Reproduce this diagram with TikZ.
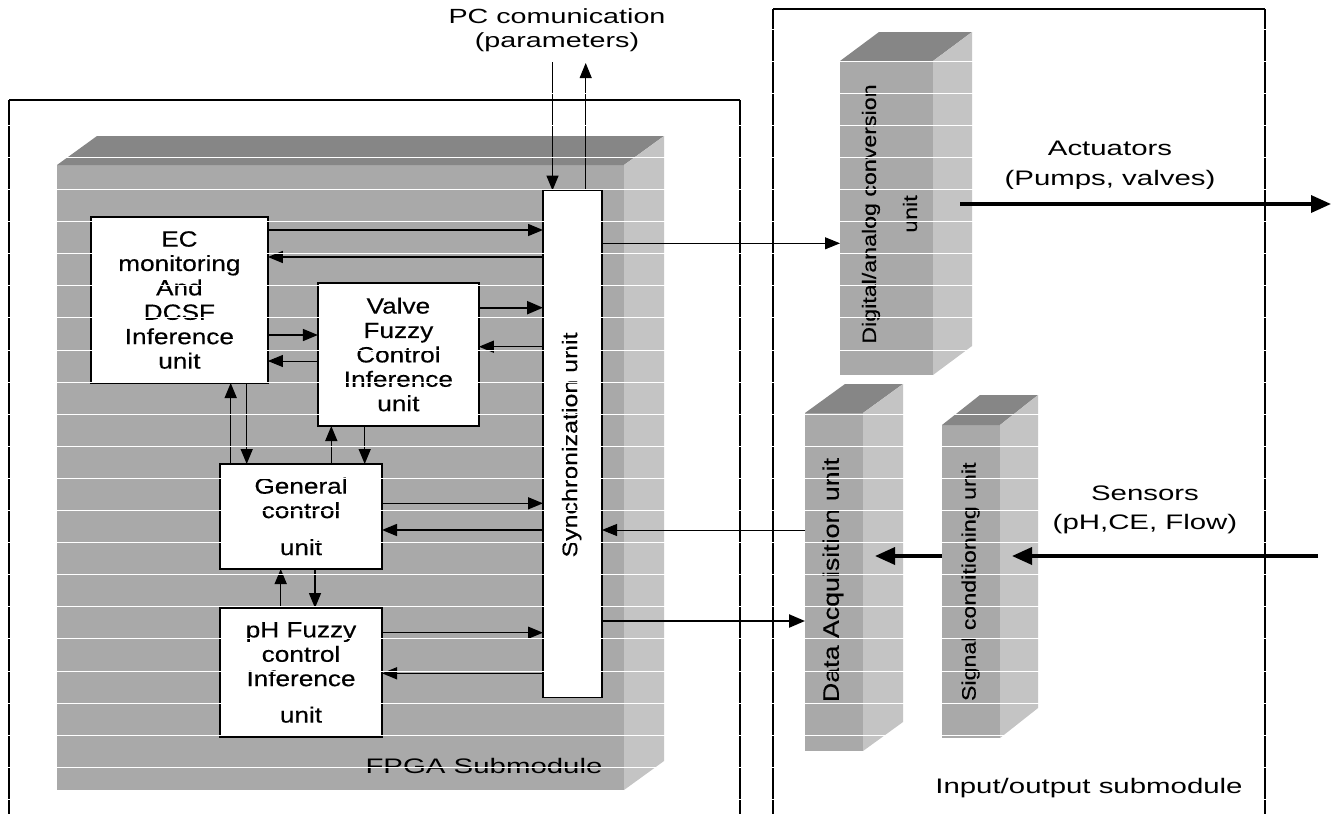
\documentclass[tikz,border=0pt]{standalone}
\usepackage{fontspec}
\setmainfont{Liberation Sans}
\newfontfamily\bxf[FakeStretch=1.19,FakeBold=0.35]{Liberation Sans}
\newfontfamily\lbf[FakeStretch=1.4]{Liberation Sans}
\usetikzlibrary{arrows.meta,calc}
\definecolor{frontg}{RGB}{169,169,169}
\definecolor{topg}{RGB}{134,134,134}
\definecolor{sideg}{RGB}{196,196,196}
\begin{document}
\begin{tikzpicture}[x=1pt,y=-1pt,
  ubox/.style={draw=black, line width=1.6pt, fill=white, inner sep=0pt, outer sep=0pt, align=center, font=\bxf\fontsize{22}{24.4}\selectfont},
  face/.style={fill=frontg, draw=none, inner sep=0pt, outer sep=0pt},
  arr/.style={-{Triangle[length=15pt,width=12pt]}, line width=1.5pt},
  thinarr/.style={-{Triangle[length=15pt,width=12pt]}, line width=0.9pt},
  thkarr/.style={-{Triangle[length=16pt,width=13pt]}, line width=2.3pt},
  bigarr/.style={-{Triangle[length=20pt,width=17pt]}, line width=3.4pt},
  lbl/.style={font=\lbf\fontsize{21}{30}\selectfont, align=center, inner sep=0pt},
  rlbl/.style={rotate=90, align=center, inner sep=0pt},
  thinborder/.style={line width=1.1pt},
  thickborder/.style={line width=2.8pt},
  scanline/.style={white, line width=1pt}
  ]
\useasboundingbox (0,0) rectangle (1334,814);
\fill[white] (0,0) rectangle (1334,814);

% outer submodule frames
\draw[thickborder] (9,100) -- (9,814);
\draw[thinborder] (9,100) -- (740,100);
\draw[thinborder] (740,100) -- (740,814);
\draw[thickborder] (773,9) -- (773,814);
\draw[thinborder] (773,9) -- (1265,9);
\draw[thickborder] (1265,9) -- (1265,814);

% FPGA 3D block
\node[face, minimum width=567, minimum height=625] (fpga) at (340.5,477.5) {};
\fill[topg] (fpga.north west) -- ++(40,-29) -- ($(fpga.north east)+(40,-29)$) -- (fpga.north east) -- cycle;
\fill[sideg] (fpga.north east) -- ++(40,-29) -- ($(fpga.south east)+(40,-29)$) -- (fpga.south east) -- cycle;

% inner units
\node[ubox, minimum width=177, minimum height=166] (ec) at (179.4,300) {EC\\monitoring\\And\\DCSF\\Inference\\unit};
\node[ubox, minimum width=161, minimum height=143] (valve) at (398.4,354.5) {Valve\\Fuzzy\\Control\\Inference\\unit};
\node[ubox, minimum width=162, minimum height=105] (gen) at (301,516.5) {General\\control\\[12.6pt]unit};
\node[ubox, minimum width=162, minimum height=129] (ph) at (301,672.5) {pH Fuzzy\\control\\Inference\\[12pt]unit};
\node[ubox, line width=1.3pt, minimum width=59, minimum height=507] (sync) at (572.5,444) {};
\node[rlbl, font=\bxf\fontsize{21}{24}\selectfont] (synct) at (571.7,445) {Synchronization unit};

% I/O 3D blocks
\node[face, minimum width=93, minimum height=314] (da) at (886.5,218) {};
\fill[topg] (da.north west) -- ++(39,-29) -- ($(da.north east)+(39,-29)$) -- (da.north east) -- cycle;
\fill[sideg] (da.north east) -- ++(39,-29) -- ($(da.south east)+(39,-29)$) -- (da.south east) -- cycle;
\node[rlbl, font=\bxf\fontsize{19.5}{41}\selectfont] (dat) at (889.5,214) {Digital/analog conversion\\unit};

\node[face, minimum width=58, minimum height=338] (daq) at (834,582) {};
\fill[topg] (daq.north west) -- ++(40,-29) -- ($(daq.north east)+(40,-29)$) -- (daq.north east) -- cycle;
\fill[sideg] (daq.north east) -- ++(40,-29) -- ($(daq.south east)+(40,-29)$) -- (daq.south east) -- cycle;
\node[rlbl, font=\bxf\fontsize{22.5}{24}\selectfont] (daqt) at (833,580) {Data Acquisition unit};

\node[face, minimum width=58, minimum height=313] (sig) at (971,581.5) {};
\fill[topg] (sig.north west) -- ++(38,-30) -- ($(sig.north east)+(38,-30)$) -- (sig.north east) -- cycle;
\fill[sideg] (sig.north east) -- ++(38,-30) -- ($(sig.south east)+(38,-30)$) -- (sig.south east) -- cycle;
\node[rlbl, font=\bxf\fontsize{19.5}{24}\selectfont] (sigt) at (970.6,581.7) {Signal conditioning unit};

% labels
\node[lbl, font=\lbf\fontsize{20.5}{24}\selectfont] (pc) at (557,30.5) {PC comunication\\(parameters)};
\node[lbl] (act) at (1110,165) {Actuators\\(Pumps, valves)};
\node[lbl, font=\lbf\fontsize{21}{28.4}\selectfont] (sens) at (1145,510) {Sensors\\(pH,CE, Flow)};
\node[lbl, anchor=base] (fpgat) at (484,773) {FPGA Submodule};
\node[lbl, anchor=base] (iot) at (1089,793) {Input/output submodule};

% PC communication
\coordinate (pcin) at (552.5,61);
\coordinate (pcout) at (585.7,63);
\draw[arr] (pcin) -- (pcin |- sync.north);
\draw[thinarr] (pcout |- sync.north) -- (pcout);

% EC / valve <-> sync
\draw[arr] (ec.east |- 0,230) -- (sync.west |- 0,230);
\draw[arr] (sync.west |- 0,257) -- (ec.east |- 0,257);
\draw[thkarr] (valve.east |- 0,307.7) -- (sync.west |- 0,307.7);
\draw[arr] (sync.west |- 0,346.7) -- (valve.east |- 0,346.7);
\draw[arr] (ec.east |- 0,335) -- (valve.west |- 0,335);
\draw[thinarr] (valve.west |- 0,361) -- (ec.east |- 0,361);

% vertical links
\draw[arr] (230.7,0 |- gen.north) -- (230.7,0 |- ec.south);
\draw[arr] (246.7,0 |- ec.south) -- (246.7,0 |- gen.north);
\draw[arr] (331.3,0 |- gen.north) -- (331.3,0 |- valve.south);
\draw[arr] (364.7,0 |- valve.south) -- (364.7,0 |- gen.north);
\draw[arr] (280.7,0 |- ph.north) -- (280.7,0 |- gen.south);
\draw[arr] (315,0 |- gen.south) -- (315,0 |- ph.north);

% general / pH <-> sync
\draw[arr] (gen.east |- 0,503.3) -- (sync.west |- 0,503.3);
\draw[arr] (sync.west |- 0,530) -- (gen.east |- 0,530);
\draw[arr] (ph.east |- 0,632.7) -- (sync.west |- 0,632.7);
\draw[arr] (sync.west |- 0,673.3) -- (ph.east |- 0,673.3);

% sync <-> I/O
\draw[thinarr] (sync.east |- 0,243.3) -- (da.west |- 0,243.3);
\draw[thinarr] (daq.west |- 0,530) -- (sync.east |- 0,530);
\draw[thkarr] (sync.east |- 0,621) -- (daq.west |- 0,621);

% actuators / sensors
\coordinate (actout) at (1331,204);
\draw[bigarr] ($(da.east |- 0,204)+(27,0)$) -- (actout);
\coordinate (sensin) at (1318,556);
\draw[bigarr] (sensin) -- ($(sig.east |- 0,556)+(12,0)$);
\draw[bigarr] (sig.west |- 0,556) -- ($(daq.east |- 0,556)+(12,0)$);

% scan lines
\foreach \k in {0,...,24} \draw[scanline] (0,{29+32.1*\k}) -- (1334,{29+32.1*\k});
\end{tikzpicture}
\end{document}
